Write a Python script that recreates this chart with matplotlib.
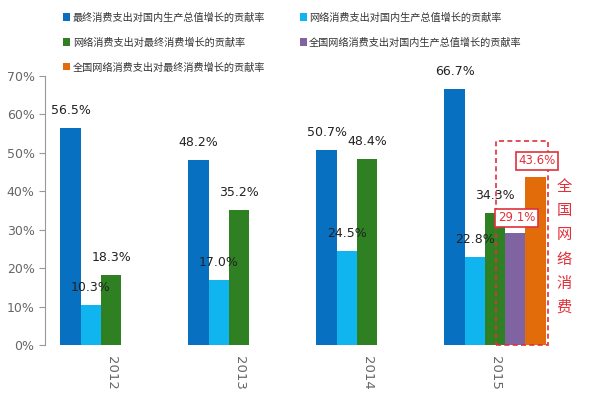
import numpy as np
import matplotlib
matplotlib.use('Agg')
import matplotlib.pyplot as plt
import matplotlib.patches as patches

plt.rcParams['font.family'] = ['Noto Sans CJK SC', 'DejaVu Sans']

years = ['2012', '2013', '2014', '2015']
series_names = [
    '最终消费支出对国内生产总值增长的贡献率',
    '网络消费支出对国内生产总值增长的贡献率',
    '网络消费支出对最终消费增长的贡献率',
    '全国网络消费支出对国内生产总值增长的贡献率',
    '全国网络消费支出对最终消费增长的贡献率',
]
final_gdp = [56.5, 48.2, 50.7, 66.7]
online_gdp = [10.3, 17.0, 24.5, 22.8]
online_final = [18.3, 35.2, 48.4, 34.3]
national_gdp = [np.nan, np.nan, np.nan, 29.1]
national_final = [np.nan, np.nan, np.nan, 43.6]
yticks = [0, 10, 20, 30, 40, 50, 60, 70]

colors = ['#0870C0', '#10B4EE', '#2E8022', '#8064A2', '#E36C0A']
all_series = [final_gdp, online_gdp, online_final, national_gdp, national_final]

fig = plt.figure(figsize=(6, 4), dpi=100)
ax = fig.add_axes([0.075, 0.1375, 0.925, 0.6725])

x = np.arange(len(years))
w = 0.158
for i, vals in enumerate(all_series):
    ax.bar(x + (i - 2) * w, vals, w, color=colors[i], label=series_names[i])
    if i < 3:
        for xi, v in zip(x, vals):
            ax.annotate(f'{v:.1f}%', (xi + (i - 2) * w, v), xytext=(0, 8),
                        textcoords='offset points', ha='center', va='bottom',
                        fontsize=9, color='#222222', family=['DejaVu Sans'])

# 2015 national series: red boxed labels
red = '#E0303A'
for i, dy in [(3, 4.0), (4, 4.3)]:
    v = all_series[i][3]
    ax.text(3 + (i - 2) * w + 0.01, v + dy, f'{v:.1f}%', ha='center', va='center',
            fontsize=8.5, color=red, family=['DejaVu Sans'],
            bbox=dict(boxstyle='square,pad=0.2', fc='white', ec=red, lw=1.2))

# dashed box around the national series
box = patches.Rectangle((3.01, 0), 0.40, 53, fill=False, ec=red, lw=1.2,
                        ls=(0, (3, 2)), clip_on=False)
ax.add_patch(box)
ax.text(3.54, 25.5, '\n'.join('全国网络消费'), ha='center', va='center',
        fontsize=11, color=red, linespacing=1.55)

ax.set_xlim(-0.516, 3.82)
ax.set_ylim(0, 70)
ax.set_yticks(yticks)
ax.set_yticklabels([f'{t}%' for t in yticks], fontsize=9, color='#666666',
                   family=['DejaVu Sans'])
ax.set_xticks(x)
ax.set_xticklabels(years, rotation=270, fontsize=9.5, color='#666666',
                   family=['DejaVu Sans'])
ax.tick_params(axis='x', length=0, pad=8)
ax.tick_params(axis='y', length=4, color='#999999', direction='out')
for s in ['top', 'right', 'bottom']:
    ax.spines[s].set_visible(False)
ax.spines['left'].set_color('#999999')

order = [0, 2, 4, 1, 3]
h, l = ax.get_legend_handles_labels()
fig.legend([h[k] for k in order], [l[k] for k in order], loc='upper left',
           bbox_to_anchor=(0.09, 0.992), ncol=2, frameon=False, fontsize=7.3,
           handlelength=0.7, handleheight=0.7, handletextpad=0.25,
           columnspacing=3.4, labelspacing=1.45, labelcolor='#333333')

fig.savefig('out.png', dpi=100)
